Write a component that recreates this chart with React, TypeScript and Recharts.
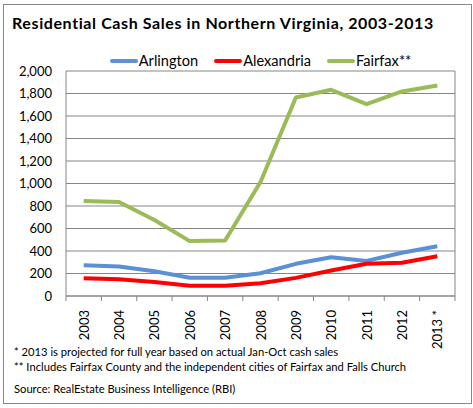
import React from "react";
import { LineChart, Line, XAxis, YAxis, CartesianGrid, Legend, ReferenceLine } from "recharts";

const categories = ["2003", "2004", "2005", "2006", "2007", "2008", "2009", "2010", "2011", "2012", "2013 *"];
const arlington = [273, 262, 220, 163, 163, 202, 286, 345, 312, 384, 443];
const alexandria = [157, 148, 125, 92, 92, 113, 161, 226, 286, 295, 354];
const fairfax = [845, 836, 675, 488, 494, 1014, 1764, 1833, 1705, 1818, 1871];
const seriesNames = ["Arlington", "Alexandria", "Fairfax**"];
const yTicks = [0, 200, 400, 600, 800, 1000, 1200, 1400, 1600, 1800, 2000];
const title = "Residential Cash Sales in Northern Virginia, 2003-2013";
const notes = [
  "* 2013 is projected for full year based on actual Jan-Oct cash sales",
  "** Includes Fairfax County and the independent cities of Fairfax and Falls Church",
];
const source = "Source: RealEstate Business Intelligence (RBI)";

const data = categories.map((c, i) => ({
  x: i + 0.5,
  label: c,
  Arlington: arlington[i],
  Alexandria: alexandria[i],
  "Fairfax**": fairfax[i],
}));
const boundaryTicks = categories.map((_, i) => i).concat([categories.length]);

const FONT = "Lato, 'Open Sans', sans-serif";
const GRAY = "#868686";

const XTick = (props: any) => {
  const { x, y, payload, width } = props;
  const i = payload.value;
  if (i >= categories.length) return null;
  const half = width / categories.length / 2;
  return (
    <text
      x={0}
      y={0}
      transform={`translate(${x + half}, ${y + 7}) rotate(-90)`}
      textAnchor="end"
      dominantBaseline="central"
      fontSize={13}
      fontFamily={FONT}
      fill="#000"
    >
      {categories[i]}
    </text>
  );
};

const LegendContent = (props: any) => {
  const items = [...(props.payload || [])].sort(
    (a: any, b: any) => seriesNames.indexOf(a.value) - seriesNames.indexOf(b.value)
  );
  return (
    <div
      style={{
        position: "absolute",
        left: 66,
        width: 389,
        height: 19,
        display: "flex",
        justifyContent: "center",
        alignItems: "center",
        gap: 16,
        fontFamily: FONT,
        fontSize: 14.6,
        color: "#000",
      }}
    >
      {items.map((it: any) => (
        <div key={it.value} style={{ display: "flex", alignItems: "center" }}>
          <div style={{ width: 28, height: 4, background: it.color, borderRadius: 2, marginRight: 1 }} />
          <span>{it.value}</span>
        </div>
      ))}
    </div>
  );
};

export default function App() {
  return (
    <div style={{ position: "absolute", left: 0, top: 0, width: 473, height: 408, background: "#fff" }}>
      <div
        style={{
          position: "absolute",
          left: 3,
          top: 4,
          width: 467,
          height: 398,
          border: "1px solid #888",
        }}
      />
      <div
        style={{
          position: "absolute",
          left: 12,
          top: 13,
          fontFamily: FONT,
          fontWeight: 700,
          fontSize: 16,
          letterSpacing: 0.6,
          color: "#000",
          whiteSpace: "nowrap",
        }}
      >
        {title}
      </div>
      <div style={{ position: "absolute", left: 0, top: 0 }}>
        <LineChart width={473} height={408} data={data} margin={{ top: 52, right: 18, bottom: 62, left: 0 }}>
          <Legend verticalAlign="top" content={LegendContent} wrapperStyle={{ top: 51, left: 0, width: 473, height: 19 }} />
          <CartesianGrid vertical={false} stroke={GRAY} strokeWidth={1} />
          <XAxis
            type="number"
            dataKey="x"
            domain={[0, categories.length]}
            ticks={boundaryTicks}
            interval={0}
            height={50}
            stroke={GRAY}
            tickSize={5}
            tick={<XTick />}
            allowDataOverflow
          />
          <YAxis
            domain={[0, 2000]}
            ticks={yTicks}
            width={66}
            stroke={GRAY}
            tickLine={false}
            tickSize={0}
            tickMargin={14}
            interval={0}
            tick={{ fontSize: 13, fontFamily: FONT, fill: "#000" }}
            tickFormatter={(v: number) => v.toLocaleString("en-US")}
          />
          <ReferenceLine x={categories.length} stroke={GRAY} />
          <Line dataKey="Arlington" stroke="#5B8FD6" strokeWidth={4} dot={false} isAnimationActive={false} strokeLinejoin="round" />
          <Line dataKey="Alexandria" stroke="#FF0000" strokeWidth={4} dot={false} isAnimationActive={false} strokeLinejoin="round" />
          <Line dataKey="Fairfax**" stroke="#9BBB59" strokeWidth={4} dot={false} isAnimationActive={false} strokeLinejoin="round" />
        </LineChart>
      </div>
      <div style={{ position: "absolute", left: 14, top: 344, fontFamily: FONT, fontSize: 11.2, color: "#000", lineHeight: "15px", whiteSpace: "nowrap" }}>
        <div>{notes[0]}</div>
        <div>{notes[1]}</div>
        <div style={{ marginTop: 7 }}>{source}</div>
      </div>
    </div>
  );
}
